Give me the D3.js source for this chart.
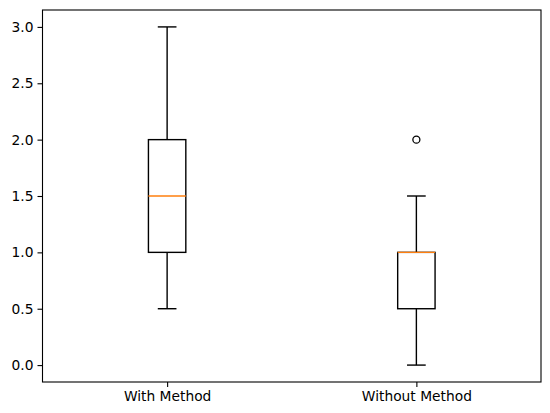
<!DOCTYPE html>
<html>
<head>
<meta charset="utf-8">
<script src="https://cdn.jsdelivr.net/npm/d3@7"></script>
<style>
  body { margin: 0; background: #fff; }
  text { font-family: "DejaVu Sans", sans-serif; fill: #000; }
</style>
</head>
<body>
<div id="chart"></div>
<script>
// box summaries
const categories = ["With Method", "Without Method"];
const whiskerLow = [0.5, 0.0];
const q1 = [1.0, 0.5];
const medians = [1.5, 1.0];
const q3 = [2.0, 1.0];
const whiskerHigh = [3.0, 1.5];
const outliers = [[], [2.0]];
const yTicks = [0.0, 0.5, 1.0, 1.5, 2.0, 2.5, 3.0];

const width = 550, height = 413;
const axLeft = 42.5, axRight = 541, axTop = 10, axBottom = 382;

const svg = d3.select("#chart")
    .append("svg")
    .attr("width", width)
    .attr("height", height);

const x = d3.scaleLinear().domain([0.5, 2.5]).range([axLeft, axRight]);
const y = d3.scaleLinear().domain([-0.15, 3.15]).range([axBottom, axTop]);

const boxW = (x(1.075) - x(0.925));
const capW = boxW / 2;

const boxes = categories.map((c, i) => ({
    name: c, pos: i + 1,
    lo: whiskerLow[i], q1: q1[i], med: medians[i], q3: q3[i], hi: whiskerHigh[i],
    out: outliers[i]
}));

const g = svg.selectAll("g.box")
    .data(boxes)
    .enter()
    .append("g")
    .classed("box", true);

const ink = "#000";
const lw = 1.4;

// whiskers
g.append("line")
    .attr("x1", d => x(d.pos)).attr("x2", d => x(d.pos))
    .attr("y1", d => y(d.q1)).attr("y2", d => y(d.lo))
    .attr("stroke", ink).attr("stroke-width", lw);
g.append("line")
    .attr("x1", d => x(d.pos)).attr("x2", d => x(d.pos))
    .attr("y1", d => y(d.q3)).attr("y2", d => y(d.hi))
    .attr("stroke", ink).attr("stroke-width", lw);

// caps
g.append("line")
    .attr("x1", d => x(d.pos) - capW / 2).attr("x2", d => x(d.pos) + capW / 2)
    .attr("y1", d => y(d.lo)).attr("y2", d => y(d.lo))
    .attr("stroke", ink).attr("stroke-width", lw);
g.append("line")
    .attr("x1", d => x(d.pos) - capW / 2).attr("x2", d => x(d.pos) + capW / 2)
    .attr("y1", d => y(d.hi)).attr("y2", d => y(d.hi))
    .attr("stroke", ink).attr("stroke-width", lw);

// box
g.append("rect")
    .attr("x", d => x(d.pos) - boxW / 2)
    .attr("y", d => y(d.q3))
    .attr("width", boxW)
    .attr("height", d => y(d.q1) - y(d.q3))
    .attr("fill", "none")
    .attr("stroke", ink).attr("stroke-width", lw);

// median
g.append("line")
    .attr("x1", d => x(d.pos) - boxW / 2).attr("x2", d => x(d.pos) + boxW / 2)
    .attr("y1", d => y(d.med)).attr("y2", d => y(d.med))
    .attr("stroke", "#ff7f0e").attr("stroke-width", lw);

// fliers
g.selectAll("circle")
    .data(d => d.out.map(v => ({ pos: d.pos, v: v })))
    .enter()
    .append("circle")
    .attr("cx", d => x(d.pos))
    .attr("cy", d => y(d.v))
    .attr("r", 3.5)
    .attr("fill", "none")
    .attr("stroke", ink).attr("stroke-width", 1.3);

// axes
const yAxis = d3.axisLeft(y)
    .tickValues(yTicks)
    .tickFormat(d3.format(".1f"))
    .tickSize(5)
    .tickPadding(4);
const xAxis = d3.axisBottom(x)
    .tickValues([1, 2])
    .tickFormat((d, i) => categories[i])
    .tickSize(5)
    .tickPadding(4);

const ya = svg.append("g").attr("transform", `translate(${axLeft},0)`).call(yAxis);
const xa = svg.append("g").attr("transform", `translate(0,${axBottom})`).call(xAxis);
[ya, xa].forEach(a => {
    a.select(".domain").remove();
    a.selectAll(".tick line").attr("stroke", "#000").attr("stroke-width", 1.1);
    a.selectAll(".tick text").style("font-size", "13.8px").attr("fill", "#000");
});

// spines
svg.append("rect")
    .attr("x", axLeft).attr("y", axTop)
    .attr("width", axRight - axLeft).attr("height", axBottom - axTop)
    .attr("fill", "none")
    .attr("stroke", "#000").attr("stroke-width", 1.1);
</script>
</body>
</html>
